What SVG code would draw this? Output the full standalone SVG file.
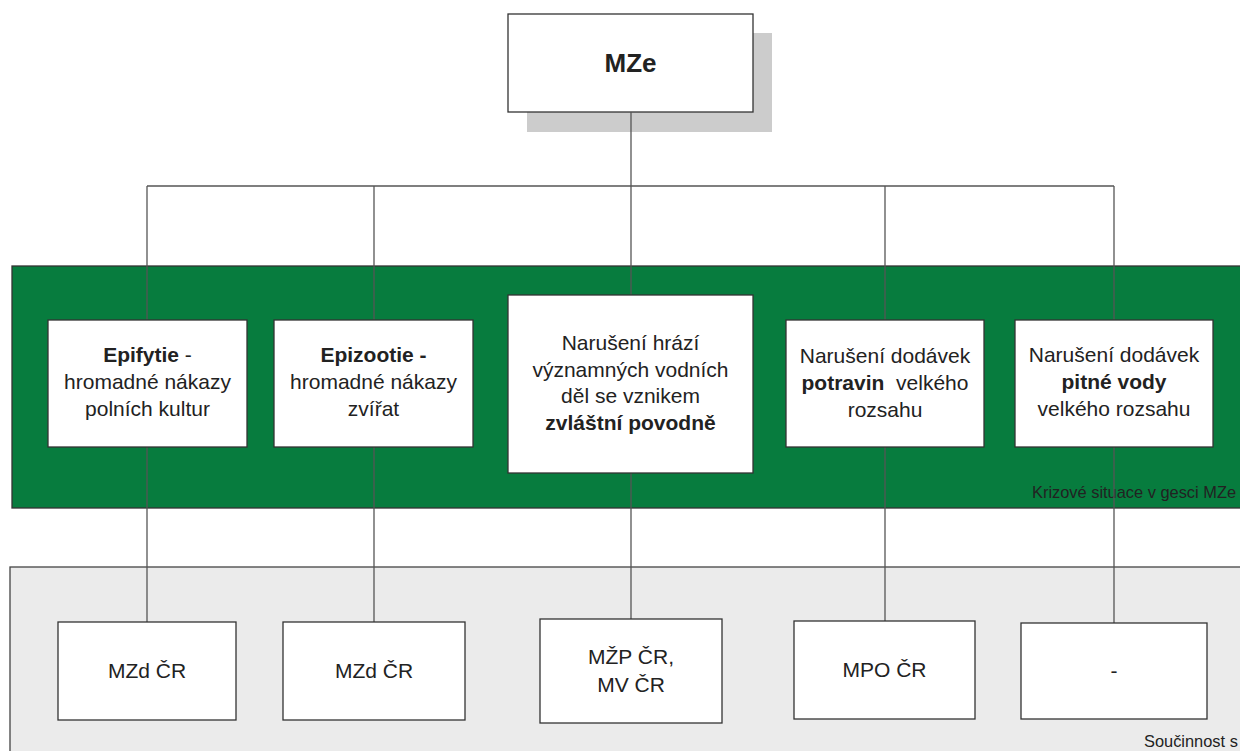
<svg xmlns="http://www.w3.org/2000/svg" width="1240" height="751" viewBox="0 0 1240 751">
<style>
text{font-family:"Liberation Sans",Arial,sans-serif;fill:#222;text-anchor:middle}
.t{font-size:21px}
.b{font-weight:bold}
.box{fill:#fff;stroke:#333;stroke-width:1.3}
.con line{stroke:#555;stroke-width:1.3}
.lbl{font-size:16.4px;text-anchor:start}
</style>
<rect width="1240" height="751" fill="#fff"/>
<g id="band-krizove">
<rect x="12" y="266" width="1240" height="242" fill="#077c3e" stroke="#333" stroke-width="1.3"/>
<text class="lbl" x="1032" y="498">Krizové situace v gesci MZe</text>
</g>
<g id="band-soucinnost">
<rect x="10" y="567" width="1240" height="200" fill="#ebebeb" stroke="#444" stroke-width="1.3"/>
<text class="lbl" x="1144" y="747" font-size="16">Součinnost s</text>
</g>
<g id="n-mze">
<rect x="527" y="33" width="245" height="99" fill="#cccccc"/>
<rect class="box" x="508" y="14" width="245" height="98"/>
<text class="b" x="630.5" y="72" font-size="26">MZe</text>
</g>
<g class="con" id="connectors">
<line x1="631" y1="112" x2="631" y2="186"/>
<line x1="147" y1="186" x2="1114" y2="186"/>
<line x1="147" y1="186" x2="147" y2="622"/>
<line x1="374" y1="186" x2="374" y2="622"/>
<line x1="631" y1="186" x2="631" y2="619"/>
<line x1="885" y1="186" x2="885" y2="621"/>
<line x1="1114" y1="186" x2="1114" y2="623"/>
</g>
<g id="n-epifytie">
<rect class="box" x="48" y="320" width="199" height="127"/>
<text class="t" x="147.5" y="362"><tspan class="b">Epifytie</tspan> -<tspan x="147.5" y="389">hromadné nákazy</tspan><tspan x="147.5" y="416">polních kultur</tspan></text>
</g>
<g id="n-epizootie">
<rect class="box" x="274" y="320" width="199" height="127"/>
<text class="t" x="373.5" y="362"><tspan class="b">Epizootie -</tspan><tspan x="373.5" y="389">hromadné nákazy</tspan><tspan x="373.5" y="416">zvířat</tspan></text>
</g>
<g id="n-hraze">
<rect class="box" x="508" y="295" width="245" height="178"/>
<text class="t" x="630.5" y="350">Narušení hrází<tspan x="630.5" y="376.5">významných vodních</tspan><tspan x="630.5" y="403">děl se vznikem</tspan><tspan class="b" x="630.5" y="429.5">zvláštní povodně</tspan></text>
</g>
<g id="n-potraviny">
<rect class="box" x="786" y="320" width="198" height="127"/>
<text class="t" x="885" y="363">Narušení dodávek<tspan x="885" y="390"><tspan class="b">potravin</tspan>&#160; velkého</tspan><tspan x="885" y="417">rozsahu</tspan></text>
</g>
<g id="n-voda">
<rect class="box" x="1015" y="320" width="198" height="127"/>
<text class="t" x="1114" y="362">Narušení dodávek<tspan class="b" x="1114" y="389">pitné vody</tspan><tspan x="1114" y="416">velkého rozsahu</tspan></text>
</g>
<g id="n-mzd1">
<rect class="box" x="58" y="622" width="178" height="98"/>
<text class="t" x="147" y="678">MZd ČR</text>
</g>
<g id="n-mzd2">
<rect class="box" x="283" y="622" width="182" height="98"/>
<text class="t" x="374" y="678">MZd ČR</text>
</g>
<g id="n-mzp">
<rect class="box" x="540" y="619" width="182" height="104"/>
<text class="t" x="631" y="664">MŽP ČR,<tspan x="631" y="692">MV ČR</tspan></text>
</g>
<g id="n-mpo">
<rect class="box" x="794" y="621" width="181" height="98"/>
<text class="t" x="884.5" y="677">MPO ČR</text>
</g>
<g id="n-none">
<rect class="box" x="1021" y="623" width="186" height="96"/>
<text class="t" x="1114" y="678">-</text>
</g>
</svg>
